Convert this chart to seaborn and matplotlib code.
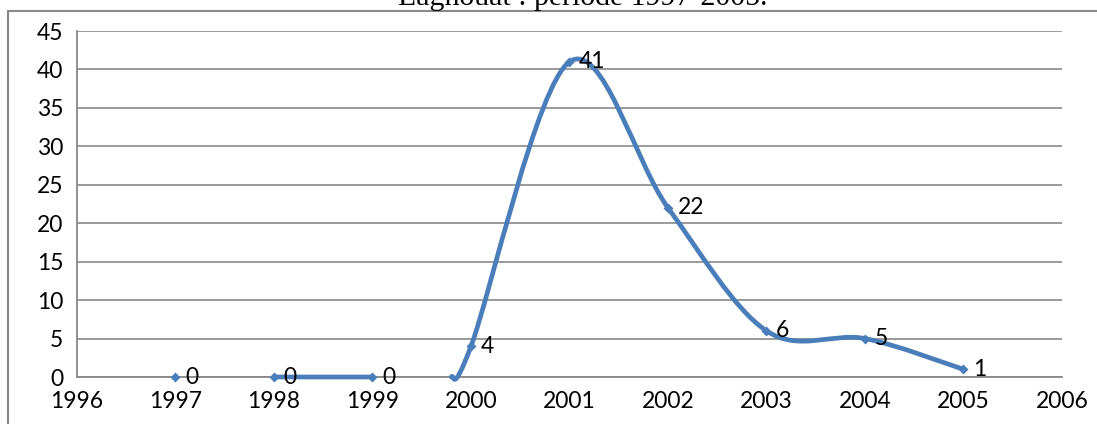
import numpy as np
import matplotlib
matplotlib.use("Agg")
import matplotlib.pyplot as plt
import seaborn as sns
import pandas as pd
from matplotlib.path import Path
from matplotlib.patches import PathPatch, Rectangle

# Yearly counts, Laghouat 1997-2005
years = [1997, 1998, 1999, 2000, 2001, 2002, 2003, 2004, 2005]
cases = [0, 0, 0, 4, 41, 22, 6, 5, 1]

# Connected runs of the smoothed series (the last run starts just before 2000)
run_x = [[1997], [1998, 1999], [1999.8, 2000, 2001, 2002, 2003, 2004, 2005]]
run_y = [[0], [0, 0], [0, 4, 41, 22, 6, 5, 1]]

x_ticks = list(range(1996, 2007))
y_ticks = list(range(0, 50, 5))
title = "Laghouat : période 1997-2005."

BLUE = "#4A7EBB"
GRID = "#898989"

sns.set_theme(style="white")
plt.rcParams["font.family"] = ["Lato", "DejaVu Sans"]

W, H = 1097, 424
fig = plt.figure(figsize=(W / 100, H / 100), dpi=100)
ax = fig.add_axes([77 / W, 1 - 377 / H, (1062 - 77) / W, (377 - 31) / H])

ax.set_xlim(1996, 2006)
ax.set_ylim(0, 45)
ax.set_xticks(x_ticks)
ax.set_yticks(y_ticks)
ax.set_xticklabels([str(t) for t in x_ticks])
ax.set_yticklabels([str(t) for t in y_ticks])
ax.tick_params(axis="both", which="major", labelsize=16.5, colors=GRID,
               labelcolor="black", length=6, width=1.3, direction="out", pad=4)
ax.tick_params(axis="x", pad=4)

ax.yaxis.grid(True, color=GRID, linewidth=1.2)
ax.xaxis.grid(False)
ax.set_axisbelow(True)
for side in ("top", "right"):
    ax.spines[side].set_visible(False)
for side in ("left", "bottom"):
    ax.spines[side].set_color(GRID)
    ax.spines[side].set_linewidth(1.3)


def smooth_path(xs, ys):
    """Cubic Bezier through the points, built in display space."""
    pts = ax.transData.transform(np.column_stack([xs, ys]).astype(float))
    n = len(pts)
    verts = [pts[0]]
    codes = [Path.MOVETO]
    for i in range(n - 1):
        p0 = pts[max(i - 1, 0)]
        p1 = pts[i]
        p2 = pts[i + 1]
        p3 = pts[min(i + 2, n - 1)]
        c1 = p1 + (p2 - p0) / 6.0
        c2 = p2 - (p3 - p1) / 6.0
        verts += [c1, c2, p2]
        codes += [Path.CURVE4] * 3
    verts = ax.transData.inverted().transform(np.array(verts))
    return Path(verts, codes)


for xs, ys in zip(run_x, run_y):
    if len(xs) < 2:
        continue
    patch = PathPatch(smooth_path(xs, ys), facecolor="none", edgecolor=BLUE,
                      linewidth=3.4, capstyle="round", joinstyle="round",
                      zorder=3, clip_on=False)
    ax.add_patch(patch)

df = pd.DataFrame({"year": years, "cases": cases})
sns.scatterplot(data=df, x="year", y="cases", ax=ax, marker="D", s=26,
                color=BLUE, edgecolor=BLUE, linewidth=0, zorder=4, clip_on=False)
ax.set_xlabel("")
ax.set_ylabel("")

for yr, val in zip(years, cases):
    ax.annotate(str(val), (yr, val), xytext=(7, 0), textcoords="offset points",
                ha="left", va="center", fontsize=16.5, color="black", zorder=5)

# chart frame and the heading above it
fig.patches.append(Rectangle((8 / W, -0.2), 1.2, 0.2 + 1 - 11 / H,
                             transform=fig.transFigure, fill=False,
                             edgecolor=GRID, linewidth=1.5))
fig.text(583 / W, 1 - 5 / H, title, ha="center", va="baseline",
         family=["Liberation Serif", "DejaVu Serif"], fontsize=21.5, color="black")

fig.savefig("out.png", dpi=100)
